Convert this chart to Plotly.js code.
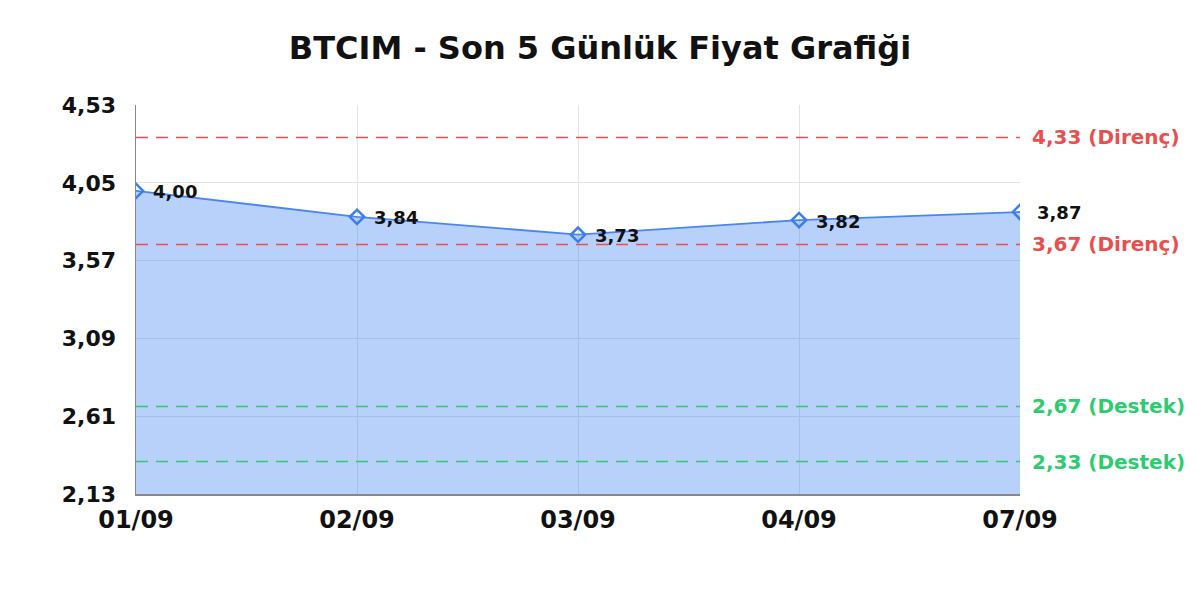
<!DOCTYPE html>
<html>
<head>
<meta charset="utf-8">
<script src="https://cdn.plot.ly/plotly-3.0.1.min.js"></script>
<style>html,body{margin:0;padding:0;background:#fff;}#chart{width:1200px;height:600px;}</style>
</head>
<body>
<div id="chart"></div>
<script>
const dates = ["01/09", "02/09", "03/09", "04/09", "07/09"];
const prices = [4.00, 3.84, 3.73, 3.82, 3.87];
const yTicks = [2.13, 2.61, 3.09, 3.57, 4.05, 4.53];
const resistance = [4.33, 3.67];
const support = [2.67, 2.33];
const titleText = "BTCIM - Son 5 Günlük Fiyat Grafiği";

const FONT = "DejaVu Sans, Verdana, sans-serif";
const fmt = v => v.toFixed(2).replace(".", ",");

const trace = {
  x: dates,
  y: prices,
  type: "scatter",
  mode: "lines+markers",
  fill: "tozeroy",
  fillcolor: "rgba(66,133,244,0.38)",
  line: {color: "#4a86f0", width: 1.8},
  marker: {symbol: "diamond-open", size: 11, color: "#3b7cf0", line: {width: 2.5, color: "#3b7cf0"}},
  hoverinfo: "skip"
};

const shapes = [];
const annotations = [];
resistance.forEach(v => {
  shapes.push({type: "line", xref: "paper", x0: 0, x1: 1, yref: "y", y0: v, y1: v,
    line: {color: "#e8504f", width: 1.5, dash: "12px,8px"}});
  annotations.push({xref: "paper", x: 1, yref: "y", y: v, xanchor: "left", yanchor: "middle",
    xshift: 10, showarrow: false, text: fmt(v) + " (Direnç)",
    font: {family: FONT, size: 20, color: "#e8504f", weight: "bold"}});
});
support.forEach(v => {
  shapes.push({type: "line", xref: "paper", x0: 0, x1: 1, yref: "y", y0: v, y1: v,
    line: {color: "#2ecc71", width: 1.5, dash: "12px,8px"}});
  annotations.push({xref: "paper", x: 1, yref: "y", y: v, xanchor: "left", yanchor: "middle",
    xshift: 10, showarrow: false, text: fmt(v) + " (Destek)",
    font: {family: FONT, size: 20, color: "#2ecc71", weight: "bold"}});
});
dates.forEach((d, i) => {
  annotations.push({x: d, y: prices[i], xref: "x", yref: "y", xanchor: "left", yanchor: "middle",
    xshift: 15, yshift: -1, showarrow: false, text: fmt(prices[i]),
    font: {family: FONT, size: 18, color: "#111", weight: "bold"}});
});

const layout = {
  width: 1200, height: 600,
  margin: {l: 136, r: 180, t: 105, b: 106},
  paper_bgcolor: "#fff", plot_bgcolor: "#fff",
  separators: ",.",
  showlegend: false,
  title: {text: titleText, x: 0.5, xanchor: "center", y: 0.92, yanchor: "middle",
    font: {family: FONT, size: 32, color: "#111", weight: "bold"}},
  xaxis: {
    type: "category", range: [0, 4],
    showgrid: true, gridcolor: "#e3e3e3", gridwidth: 1,
    showline: true, linecolor: "#888", linewidth: 1.5,
    ticks: "", ticklabelstandoff: 4,
    tickfont: {family: FONT, size: 24, color: "#111", weight: "bold"},
    fixedrange: true, zeroline: false
  },
  yaxis: {
    range: [2.13, 4.53],
    tickvals: yTicks, ticktext: yTicks.map(fmt),
    showgrid: true, gridcolor: "#e3e3e3", gridwidth: 1,
    showline: true, linecolor: "#888", linewidth: 1.5,
    ticks: "", ticklabelstandoff: 14,
    tickfont: {family: FONT, size: 22, color: "#111", weight: "bold"},
    zeroline: false, fixedrange: true
  },
  shapes: shapes,
  annotations: annotations
};

Plotly.newPlot("chart", [trace], layout, {displayModeBar: false, staticPlot: true});
</script>
</body>
</html>
